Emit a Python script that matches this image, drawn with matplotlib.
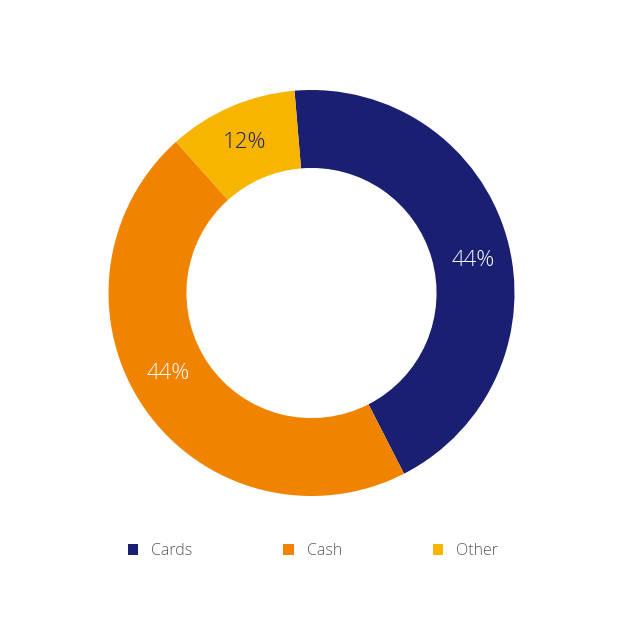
import numpy as np
import matplotlib.pyplot as plt
from matplotlib.patches import Patch

labels = ["Cards", "Cash", "Other"]
shares = [43.8, 45.9, 10.3]
pct_labels = ["44%", "44%", "12%"]
colors = ["#1a1f71", "#f08400", "#f7b500"]
pct_colors = ["white", "white", "#1a1f71"]
# small nudges (degrees, clockwise) of the percent labels from the wedge middle
label_shift = [4.6, 5.2, -0.7]

plt.rcParams["font.family"] = ["Open Sans", "DejaVu Sans"]

fig = plt.figure(figsize=(6.41, 6.41), dpi=100)
# donut centred at (311.5, 293) px, outer radius 203 px
ax = fig.add_axes([(311.5 - 203) / 641, (641 - 293 - 203) / 641, 406 / 641, 406 / 641])

wedges, _ = ax.pie(
    shares, colors=colors, startangle=94.8, counterclock=False,
    radius=1, wedgeprops=dict(width=0.384, linewidth=0),
)
for w, txt, c, shift in zip(wedges, pct_labels, pct_colors, label_shift):
    ang = np.deg2rad((w.theta1 + w.theta2) / 2 - shift)
    ax.text(0.81 * np.cos(ang), 0.81 * np.sin(ang), txt, color=c,
            fontsize=16, fontweight="light", ha="center", va="center")

ax.set_xlim(-1, 1)
ax.set_ylim(-1, 1)
ax.set_aspect("equal")
ax.axis("off")

handles = [Patch(facecolor=c, edgecolor="none") for c in colors]
leg = fig.legend(handles, labels, loc="center", bbox_to_anchor=(313 / 641, 1 - 551 / 641),
                 ncol=3, frameon=False, fontsize=11.5, handlelength=0.65, handleheight=0.65,
                 handletextpad=0.8, columnspacing=5.7)
for t in leg.get_texts():
    t.set_color("#595959")
    t.set_fontweight("light")

fig.savefig("out.png", dpi=100, facecolor="white")
